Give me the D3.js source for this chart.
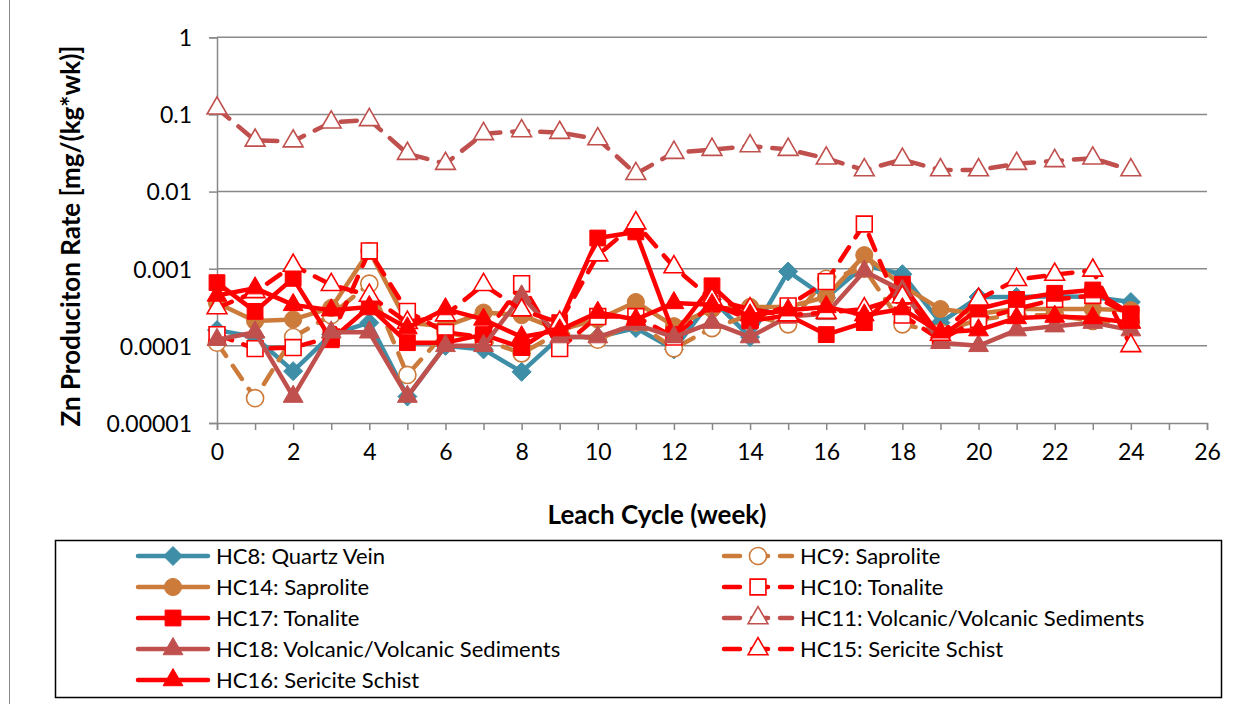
<!DOCTYPE html>
<html><head><meta charset="utf-8">
<script src="https://cdn.jsdelivr.net/npm/d3@7"></script>
<style>
html,body{margin:0;padding:0;background:#fff;}
svg{display:block;}
text{font-family:Lato,"Open Sans",sans-serif;fill:#000;}
</style></head>
<body>
<svg id="chart" width="1240" height="704"></svg>
<script>
// ---- data ----
const weeks = [0,1,2,3,4,5,6,7,8,9,10,11,12,13,14,15,16,17,18,19,20,21,22,23,24];
const yTickValues = [0.00001,0.0001,0.001,0.01,0.1,1];
const yTickLabels = ["0.00001","0.0001","0.001","0.01","0.1","1"];
const xTickLabels = ["0","2","4","6","8","10","12","14","16","18","20","22","24","26"];

const hc8  = [0.00016,0.00013,0.000047,0.00014,0.0002,0.000022,0.0001,0.00009,0.000046,0.00013,0.00013,0.00017,0.00009,0.0004,0.00013,0.00092,0.00042,0.0011,0.00085,0.0002,0.00043,0.00043,0.00044,0.00043,0.00037];
const hc9  = [0.00011,0.000021,0.00013,0.00025,0.00064,0.000042,0.00015,0.00012,0.00008,0.00015,0.00012,0.0002,0.000093,0.00017,0.00025,0.00019,0.00074,0.001,0.00019,0.00015,0.00022,0.00025,0.00025,0.00021,0.0002];
const hc14 = [0.00036,0.00021,0.00022,0.00031,0.0017,0.0002,0.00018,0.00027,0.00025,0.00016,0.00022,0.00037,0.00018,0.0003,0.00032,0.00032,0.00043,0.0015,0.0006,0.0003,0.00026,0.0003,0.0003,0.0003,0.00029];
const hc10 = [0.00014,0.000092,0.000095,0.00013,0.0017,0.00028,0.00015,0.00013,0.00064,0.000092,0.00024,0.00024,0.00013,0.00035,0.00022,0.00033,0.00068,0.0038,0.00025,0.00012,0.00022,0.0003,0.0004,0.00045,0.00025];
const hc17 = [0.00066,0.00028,0.00075,0.00012,0.00032,0.00011,0.00011,0.00014,0.000095,0.0002,0.0025,0.003,0.00014,0.0006,0.00021,0.00025,0.00014,0.0002,0.00063,0.00013,0.0003,0.0004,0.00048,0.00053,0.00026];
const hc11 = [0.12,0.046,0.045,0.079,0.085,0.031,0.023,0.056,0.061,0.058,0.048,0.017,0.032,0.035,0.039,0.035,0.027,0.019,0.026,0.019,0.019,0.023,0.025,0.027,0.019];
const hc18 = [0.00012,0.00015,0.000022,0.00015,0.00015,0.000022,0.0001,0.0001,0.00044,0.00013,0.00013,0.00019,0.00013,0.0002,0.00013,0.00024,0.00026,0.00093,0.00052,0.00011,0.0001,0.00016,0.00018,0.0002,0.00016];
const hc15 = [0.00031,0.0005,0.0011,0.00062,0.00045,0.0002,0.00025,0.00062,0.00029,0.0002,0.0015,0.0039,0.00105,0.0004,0.0003,0.00025,0.00027,0.0003,0.00043,0.00014,0.0004,0.00072,0.00084,0.00095,0.0001];
const hc16 = [0.00045,0.00056,0.00034,0.00029,0.00032,0.00017,0.0003,0.00022,0.00013,0.00016,0.00027,0.00022,0.00036,0.00034,0.00025,0.00029,0.00032,0.00025,0.0003,0.00015,0.00016,0.00023,0.00024,0.00023,0.0002];

const seriesNames = ["HC8: Quartz Vein","HC9: Saprolite","HC14: Saprolite","HC10: Tonalite","HC17: Tonalite","HC11: Volcanic/Volcanic Sediments","HC18: Volcanic/Volcanic Sediments","HC15: Sericite Schist","HC16: Sericite Schist"];
const seriesValues = [hc8,hc9,hc14,hc10,hc17,hc11,hc18,hc15,hc16];
const seriesColors = ["#3E8EA8","#CC7B3B","#CC7B3B","#FF0000","#FF0000","#C0504D","#C0504D","#FF0000","#FF0000"];
const seriesMarkers = ["diamond","circle","circle","square","square","triangle","triangle","triangle","triangle"];
const seriesOpen = [false,true,false,true,false,true,false,true,false];
const seriesDashed = [false,true,false,true,false,true,false,true,false];

// ---- layout ----
const svg = d3.select("#chart");
const x = d3.scaleLinear().domain([0,26]).range([217,1207]);
const y = d3.scaleLog().domain([0.00001,1]).range([423,37.3]);

// outer chart border (left edge visible)
svg.append("rect").attr("x",9.5).attr("y",-5).attr("width",1300).attr("height",720)
  .attr("fill","none").attr("stroke","#8a8a8a").attr("stroke-width",1);

// gridlines
svg.append("g").selectAll("line").data(yTickValues.slice(1)).join("line")
  .attr("x1",x(0)).attr("x2",x(26)).attr("y1",d=>y(d)).attr("y2",d=>y(d))
  .attr("stroke","#888").attr("stroke-width",1.5);

// y axis
const yAxis = d3.axisLeft(y).tickValues(yTickValues)
  .tickFormat((d,i)=>yTickLabels[i]).tickSize(8).tickPadding(17);
const gy = svg.append("g").attr("transform",`translate(${x(0)},0)`).call(yAxis);
gy.select(".domain").attr("stroke","#888").attr("stroke-width",1.5);
gy.selectAll(".tick line").attr("stroke","#888").attr("stroke-width",1.5);
gy.selectAll(".tick text").style("font-size","23px").style("font-family","Lato").attr("dy","0.36em");

// x axis
const xAxis = d3.axisBottom(x).tickValues(d3.range(0,27))
  .tickFormat(d=> d%2===0 ? xTickLabels[d/2] : "").tickSize(7).tickPadding(14);
const gx = svg.append("g").attr("transform",`translate(0,${y(0.00001)})`).call(xAxis);
gx.select(".domain").attr("stroke","#888").attr("stroke-width",1.5);
gx.selectAll(".tick line").attr("stroke","#888").attr("stroke-width",1.5);
gx.selectAll(".tick text").style("font-size","23px").style("font-family","Lato");

// axis titles
svg.append("text").attr("transform","translate(80,236) rotate(-90)")
  .attr("text-anchor","middle").style("font-size","26px").style("font-weight","bold")
  .text("Zn Produciton Rate [mg/(kg*wk)]");
svg.append("text").attr("x",657).attr("y",524).attr("text-anchor","middle")
  .style("font-size","26px").style("font-weight","bold").text("Leach Cycle (week)");

// marker path generator
function markerPath(type){
  if(type==="circle") return d3.symbol().type(d3.symbolCircle).size(230)();
  if(type==="square") return d3.symbol().type(d3.symbolSquare).size(250)();
  if(type==="triangle") return d3.symbol().type(d3.symbolTriangle).size(170)();
  if(type==="diamond") { const h=9.5; return `M0,${-h}L${h},0L0,${h}L${-h},0Z`; }
}

// series
const line = d3.line().x((d,i)=>x(weeks[i])).y(d=>y(d));
seriesValues.forEach((vals,si)=>{
  const g = svg.append("g");
  g.append("path").attr("d",line(vals)).attr("fill","none")
    .attr("stroke",seriesColors[si]).attr("stroke-width",4.5)
    .attr("stroke-linejoin","round").attr("stroke-linecap","round")
    .attr("stroke-dasharray",seriesDashed[si]?"16,12":null);
  g.selectAll("path.m").data(vals).join("path").attr("class","m")
    .attr("d",markerPath(seriesMarkers[si]))
    .attr("transform",(d,i)=>`translate(${x(weeks[i])},${y(d)})`)
    .attr("fill",seriesOpen[si]?"#fff":seriesColors[si])
    .attr("stroke",seriesColors[si]).attr("stroke-width",seriesOpen[si]?1.6:1);
});

// legend
svg.append("rect").attr("x",55.5).attr("y",540.5).attr("width",1166).attr("height",157)
  .attr("fill","#fff").attr("stroke","#000").attr("stroke-width",1.5);
const rowsY = [556,587,618,649,680];
const colX = [{x1:138,x2:208,tx:216},{x1:724,x2:792,tx:800}];
seriesNames.forEach((name,si)=>{
  const r = Math.floor(si/2), c = si%2;
  const cy = rowsY[r], cx = colX[c];
  const g = svg.append("g");
  g.append("line").attr("x1",cx.x1).attr("x2",cx.x2).attr("y1",cy).attr("y2",cy)
    .attr("stroke",seriesColors[si]).attr("stroke-width",4.5).attr("stroke-linecap","round")
    .attr("stroke-dasharray",seriesDashed[si]?"16,12":null);
  g.append("path").attr("d",markerPath(seriesMarkers[si]))
    .attr("transform",`translate(${(cx.x1+cx.x2)/2},${cy})`)
    .attr("fill",seriesOpen[si]?"#fff":seriesColors[si])
    .attr("stroke",seriesColors[si]).attr("stroke-width",seriesOpen[si]?1.6:1);
  g.append("text").attr("x",cx.tx).attr("y",cy).attr("dy","0.36em")
    .style("font-size","22px").text(name);
});
</script>
</body></html>
